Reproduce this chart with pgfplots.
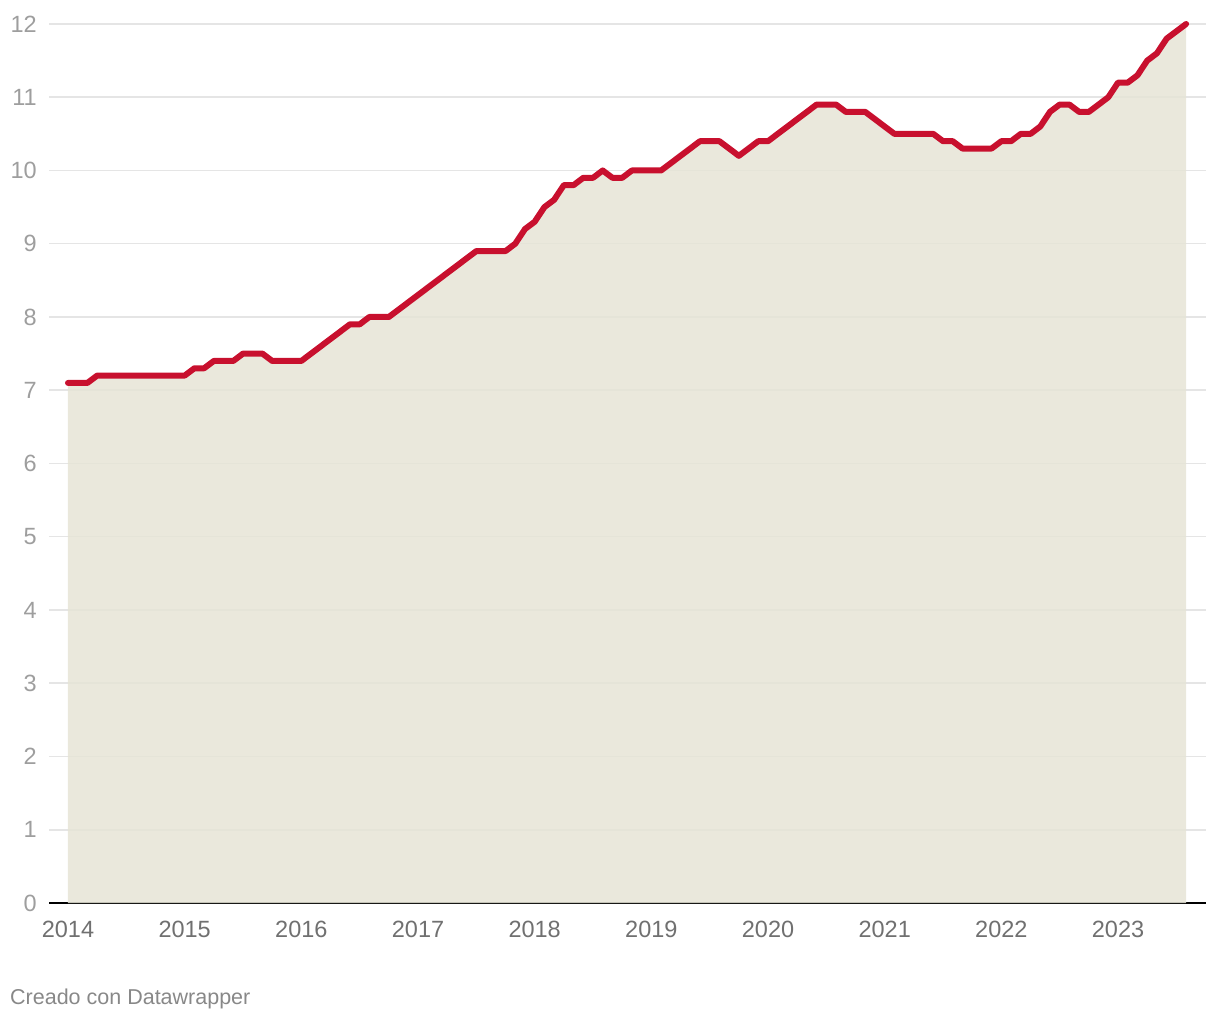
\documentclass[border=0pt]{standalone}
\usepackage{pgfplots}
\pgfplotsset{compat=1.18}
\usepackage{pgfplotstable}
\usepackage{fontspec}
\setmainfont{Liberation Sans}
\definecolor{areac}{RGB}{230,228,214}
\definecolor{linec}{RGB}{200,16,46}
\definecolor{gridc}{RGB}{229,229,229}
\definecolor{ylab}{RGB}{158,158,158}
\definecolor{xlab}{RGB}{112,112,112}
\definecolor{credit}{RGB}{136,136,136}
\pgfplotstableread{
m v
0 7.1
1 7.1
2 7.1
3 7.2
4 7.2
5 7.2
6 7.2
7 7.2
8 7.2
9 7.2
10 7.2
11 7.2
12 7.2
13 7.3
14 7.3
15 7.4
16 7.4
17 7.4
18 7.5
19 7.5
20 7.5
21 7.4
22 7.4
23 7.4
24 7.4
25 7.5
26 7.6
27 7.7
28 7.8
29 7.9
30 7.9
31 8.0
32 8.0
33 8.0
34 8.1
35 8.2
36 8.3
37 8.4
38 8.5
39 8.6
40 8.7
41 8.8
42 8.9
43 8.9
44 8.9
45 8.9
46 9.0
47 9.2
48 9.3
49 9.5
50 9.6
51 9.8
52 9.8
53 9.9
54 9.9
55 10.0
56 9.9
57 9.9
58 10.0
59 10.0
60 10.0
61 10.0
62 10.1
63 10.2
64 10.3
65 10.4
66 10.4
67 10.4
68 10.3
69 10.2
70 10.3
71 10.4
72 10.4
73 10.5
74 10.6
75 10.7
76 10.8
77 10.9
78 10.9
79 10.9
80 10.8
81 10.8
82 10.8
83 10.7
84 10.6
85 10.5
86 10.5
87 10.5
88 10.5
89 10.5
90 10.4
91 10.4
92 10.3
93 10.3
94 10.3
95 10.3
96 10.4
97 10.4
98 10.5
99 10.5
100 10.6
101 10.8
102 10.9
103 10.9
104 10.8
105 10.8
106 10.9
107 11.0
108 11.2
109 11.2
110 11.3
111 11.5
112 11.6
113 11.8
114 11.9
115 12.0
}\datatable
\begin{document}
\begin{tikzpicture}[x=1pt,y=1pt]
\useasboundingbox (0,0) rectangle (1220,1020);
\begin{axis}[
  at={(49pt,117pt)}, anchor=south west,
  scale only axis, width=1157pt, height=879pt,
  xmin=-1.954, xmax=117.05, ymin=0, ymax=12,
  clip=false,
  axis x line=bottom, axis y line=left,
  axis line style={-},
  x axis line style={black, line width=2pt},
  y axis line style={draw=none},
  major tick length=0pt,
  xtick={0,12,24,36,48,60,72,84,96,108},
  xticklabels={2014,2015,2016,2017,2018,2019,2020,2021,2022,2023},
  ytick={0,1,...,12},
  ymajorgrids,
  grid style={gridc, line width=1.5pt},
  /pgf/number format/assume math mode=true,
  xticklabel style={font=\fontsize{23.5}{28}\selectfont, text=xlab, anchor=north, inner sep=0pt, yshift=-18pt},
  yticklabel style={font=\fontsize{23.5}{28}\selectfont, text=ylab, anchor=east, inner sep=0pt, xshift=-12pt},
]
\addplot[draw=none, fill=areac, fill opacity=0.85] table[x=m, y=v] {\datatable} \closedcycle;
\addplot[linec, line width=6pt, line join=round, line cap=round] table[x=m, y=v] {\datatable};
\end{axis}
\node[anchor=base west, inner sep=0pt, text=credit, font=\fontsize{21.5}{26}\selectfont] at (10,16) {Creado con Datawrapper};
\end{tikzpicture}
\end{document}
